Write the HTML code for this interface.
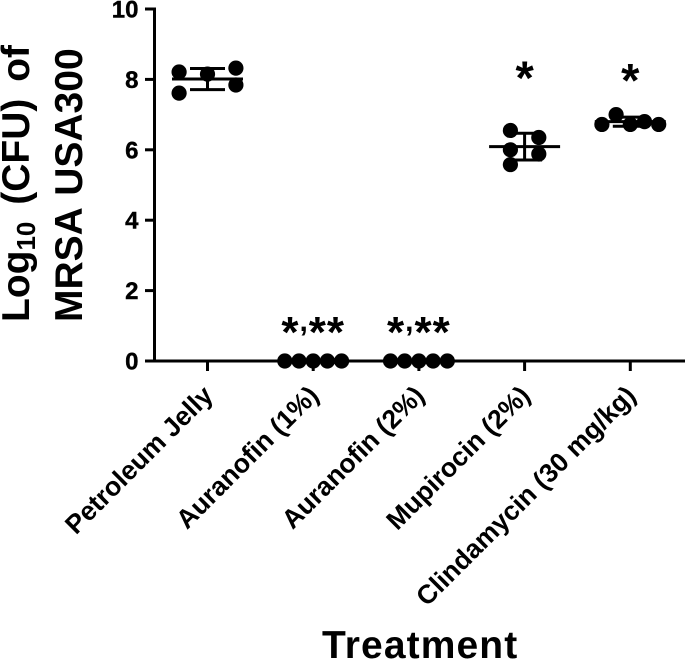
<!DOCTYPE html>
<html>
<head>
<meta charset="utf-8">
<style>
html,body{margin:0;padding:0;background:#fff;}
svg{display:block;}
text{font-family:"Liberation Sans",sans-serif;font-weight:bold;fill:#000;}
</style>
</head>
<body>
<svg id="chart" width="685" height="660" viewBox="0 0 685 660" xmlns="http://www.w3.org/2000/svg">
  <rect width="685" height="660" fill="#fff"/>
  <text transform="translate(29,322) rotate(-90)" font-size="39" word-spacing="6">Log<tspan font-size="26" dy="6">10</tspan><tspan dy="-6"> (CFU) of</tspan></text>
  <text transform="translate(82,322) rotate(-90)" font-size="39" word-spacing="2">MRSA USA300</text>
  <text x="322" y="658" font-size="39" letter-spacing="1.1">Treatment</text>
</svg>
<script>
const categories = ["Petroleum Jelly", "Auranofin (1%)", "Auranofin (2%)", "Mupirocin (2%)", "Clindamycin (30 mg/kg)"];
const yTicks = [0, 2, 4, 6, 8, 10];
const yTickLabels = ["0", "2", "4", "6", "8", "10"];
const petroleumValues = [8.21, 7.61, 8.15, 8.32, 7.84];
const auranofin1Values = [0, 0, 0, 0, 0];
const auranofin2Values = [0, 0, 0, 0, 0];
const mupirocinValues = [6.55, 6.0, 5.58, 6.35, 5.88];
const clindamycinValues = [6.72, 7.0, 6.72, 6.8, 6.72];
const seriesValues = [petroleumValues, auranofin1Values, auranofin2Values, mupirocinValues, clindamycinValues];
const swarmSlots = [
  [-2, -2, 0, 2, 2],
  [-2, -1, 0, 1, 2],
  [-2, -1, 0, 1, 2],
  [-1, -1, -1, 1, 1],
  [-2, -1, 0, 1, 2]
];
const means = [8.01, 0, 0, 6.09, 6.8];
const sds = [0.3, 0, 0, 0.38, 0.13];
const significance = ["", "*,**", "*,**", "*", "*"];
const significanceLevels = [0, 0.4, 0.4, 7.58, 7.52];

const NS = "http://www.w3.org/2000/svg";
const svg = document.getElementById("chart");
const plotLeft = 154.5, plotBottom = 361, unitsPerPx = 35.2;
const firstCategoryX = 207.5, categoryStep = 105.7, slotWidth = 14.2;
const yScale = v => plotBottom - v * unitsPerPx;
const xScale = i => firstCategoryX + i * categoryStep;

function make(tag, attrs, parent) {
  const el = document.createElementNS(NS, tag);
  for (const k in attrs) el.setAttribute(k, attrs[k]);
  (parent || svg).appendChild(el);
  return el;
}
function line(x1, y1, x2, y2, w, parent) {
  return make("line", {x1, y1, x2, y2, stroke: "#000", "stroke-width": w}, parent);
}

const yAxis = line(plotLeft, yScale(10) - 1.5, plotLeft, plotBottom + 1.5, 3);


const xAxis = line(145, plotBottom, 685, plotBottom, 3);



yTicks.forEach((t, i) => {
  const tick = line(145, yScale(t), plotLeft, yScale(t), 3);
  
  
  const label = make("text", {x: 138.5, y: yScale(t) + 8.5, "font-size": 24, "text-anchor": "end", stroke: "#000", "stroke-width": 0.4});
  label.textContent = yTickLabels[i];
  
  
});

categories.forEach((c, i) => {
  const cx = xScale(i);
  const tick = line(cx, plotBottom, cx, 371, 3);
  
  
  const label = make("text", {
    transform: "translate(" + (cx + 7) + ",397) rotate(-45)",
    "font-size": 26.5, "text-anchor": "end"
  });
  label.textContent = c;
  
  

  const group = make("g", {});
  
  
  seriesValues[i].forEach((v, j) => {
    const dot = make("circle", {cx: cx + swarmSlots[i][j] * slotWidth, cy: yScale(v), r: 7.6, fill: "#000"}, group);
    
    
  });
  const meanLine = line(cx - 35.5, yScale(means[i]), cx + 35.5, yScale(means[i]), 3, group);
  
  
  const errorBar = line(cx, yScale(means[i] + sds[i]), cx, yScale(means[i] - sds[i]), 3, group);
  
  
  [means[i] + sds[i], means[i] - sds[i]].forEach(e => {
    const cap = line(cx - 17.5, yScale(e), cx + 17.5, yScale(e), 3, group);
    
    
  });

  if (significance[i]) {
    const single = significance[i].length === 1;
    const starSize = single ? 47 : 44;
    const star = make("text", {
      x: cx,
      y: yScale(significanceLevels[i]),
      "font-size": starSize,
      "text-anchor": "middle",
      "letter-spacing": single ? 0 : 1
    });
    
    
    let shift = 0;
    Array.from(significance[i]).forEach(ch => {
      const span = make("tspan", {}, star);
      const isComma = ch === ",";
      const target = isComma ? -16 : 0;
      span.setAttribute('dy', target - shift);
      shift = target;
      if (isComma) span.setAttribute('font-size', 30);
      span.textContent = ch;
    });
  }
});
</script>
</body>
</html>
